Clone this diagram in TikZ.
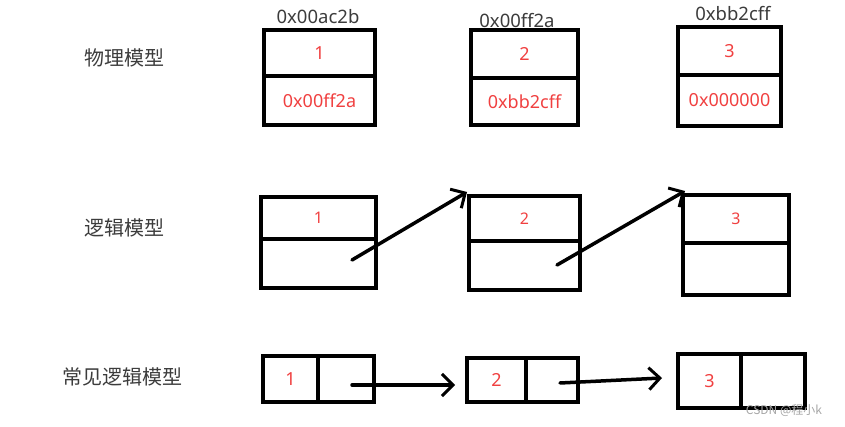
\documentclass[tikz,border=0pt]{standalone}
\usepackage{fontspec}
\setmainfont{Noto Sans}
\newfontfamily\cjk{Noto Sans CJK SC}
\usetikzlibrary{arrows.meta, positioning}
\definecolor{memred}{RGB}{240,64,64}
\definecolor{labgray}{RGB}{60,60,60}
\begin{document}
\begin{tikzpicture}[x=1pt, y=-1pt,
  cell/.style={draw, line width=3.5pt, outer sep=0pt, inner sep=0pt, text=memred, font=\fontsize{18}{20}\selectfont},
  small/.style={font=\fontsize{16}{18}\selectfont},
  addr/.style={text=labgray, font=\fontsize{18.5}{20}\selectfont},
  model/.style={text=labgray, font=\cjk\fontsize{20}{23}\selectfont},
  ptr/.style={line width=3.5pt, line cap=round, -{Straight Barb[length=11pt, width=22pt, line width=3pt]}}]
\useasboundingbox (0,0) rectangle (845,427);

\node[model] (phys) at (124,58) {物理模型};
\node[model] (logic) at (124,228) {逻辑模型};
\node[model] (common) at (122,377) {常见逻辑模型};

\node[addr] (p1addr) at (318,17) {0x00ac2b};
\node[addr] (p2addr) at (517,21) {0x00ff2a};
\node[addr] (p3addr) at (733,14) {0xbb2cff};
\node[cell, minimum width=111pt, minimum height=46pt] (p1a) at (319.5,53) {1};
\node[cell, minimum width=111pt, minimum height=49pt, below=0pt of p1a] (p1b) {0x00ff2a};
\node[cell, minimum width=107pt, minimum height=48pt] (p2a) at (524.5,54) {2};
\node[cell, minimum width=107pt, minimum height=47pt, below=0pt of p2a] (p2b) {0xbb2cff};
\node[cell, minimum width=103pt, minimum height=48pt] (p3a) at (729.5,51) {3};
\node[cell, minimum width=103pt, minimum height=51pt, below=0pt of p3a] (p3b) {0x000000};

\node[cell, small, minimum width=115pt, minimum height=42pt] (l1a) at (318.5,218) {1};
\node[cell, minimum width=115pt, minimum height=49pt, below=0pt of l1a] (l1b) {};
\node[cell, small, minimum width=111pt, minimum height=45pt] (l2a) at (524.5,218.5) {2};
\node[cell, minimum width=111pt, minimum height=49pt, below=0pt of l2a] (l2b) {};
\node[cell, small, minimum width=106pt, minimum height=48pt] (l3a) at (736,219) {3};
\node[cell, minimum width=106pt, minimum height=52pt, below=0pt of l3a] (l3b) {};
\coordinate (l1s) at (352,260);
\coordinate (l2s) at (557,265);
\draw[ptr] (l1s) -- ([shift={(-2pt,4pt)}]l2a.north west);
\draw[ptr] (l2s) -- ([shift={(2pt,4pt)}]l3a.north west);

\node[cell, minimum width=55pt, minimum height=46pt] (c1a) at (290.5,379) {1};
\node[cell, minimum width=56pt, minimum height=46pt, right=0pt of c1a] (c1b) {};
\node[cell, minimum width=59pt, minimum height=44pt] (c2a) at (496.5,380) {2};
\node[cell, minimum width=52pt, minimum height=44pt, right=0pt of c2a] (c2b) {};
\node[cell, minimum width=63pt, minimum height=54pt] (c3a) at (709.5,381) {3};
\node[cell, minimum width=64pt, minimum height=54pt, right=0pt of c3a] (c3b) {};
\coordinate (c1s) at (352,385);
\coordinate (c1e) at (455,385);
\coordinate (c2s) at (560,383);
\coordinate (c2e) at (662,378);
\draw[ptr] (c1s) -- (c1e);
\draw[ptr] (c2s) -- (c2e);

\node[text=black!35, font=\cjk\fontsize{12}{14}\selectfont] (mark) at (784,411) {CSDN @程小k};
\end{tikzpicture}
\end{document}
